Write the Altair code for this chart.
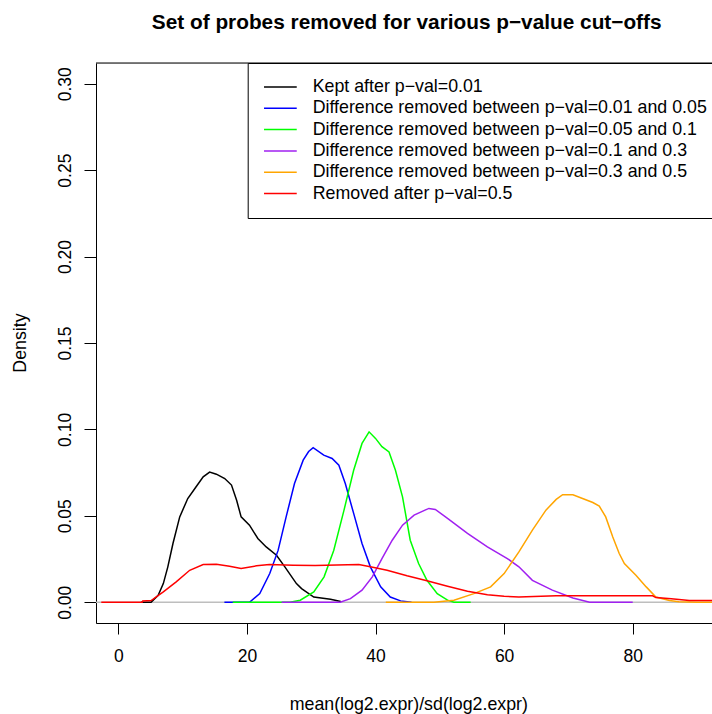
import altair as alt
import pandas as pd

# ---- data ----
names = [
    "Kept after p\u2212val=0.01",
    "Difference removed between p\u2212val=0.01 and 0.05",
    "Difference removed between p\u2212val=0.05 and 0.1",
    "Difference removed between p\u2212val=0.1 and 0.3",
    "Difference removed between p\u2212val=0.3 and 0.5",
    "Removed after p\u2212val=0.5",
]
colors = ["#000000", "#0000FF", "#00FF00", "#A020F0", "#FFA500", "#FF0000"]

black_x = [3.5, 5.1, 6.2, 7.0, 7.7, 8.5, 9.55, 10.8, 12.1, 13.2, 14.2, 15.25, 16.55, 17.6, 18.4, 19.1,
           20.4, 21.7, 23.0, 24.6, 25.9, 27.7, 28.5, 30.4, 33.0, 34.6]
black_y = [0, 0, 0.004, 0.0108, 0.0205, 0.034, 0.0494, 0.060, 0.0668, 0.0726, 0.0753, 0.0741, 0.0716,
           0.0678, 0.059, 0.0494, 0.0446, 0.0369, 0.032, 0.0272, 0.0205, 0.0108, 0.0079, 0.003, 0.0017, 0.0005]

blue_x = [16.5, 20.4, 22.0, 23.55, 24.85, 26.1, 27.4, 28.75, 29.6, 30.3, 31.95, 33.25, 34.3, 35.3, 36.6,
          37.9, 39.2, 40.8, 42.3, 43.9, 45.6]
blue_y = [0, 0, 0.005, 0.0166, 0.030, 0.0494, 0.0687, 0.0822, 0.0872, 0.0894, 0.0851, 0.0832, 0.0793,
          0.0687, 0.0514, 0.034, 0.0205, 0.0089, 0.003, 0.0008, 0]

green_x = [17.8, 26.7, 28.3, 30.4, 32.0, 33.5, 35.1, 36.6, 37.9, 39.0, 40.0, 41.0, 42.1, 43.1, 44.2,
           45.4, 46.7, 48.0, 49.6, 51.2, 52.2, 54.8]
green_y = [0, 0, 0.0012, 0.006, 0.0147, 0.030, 0.0533, 0.0764, 0.0919, 0.0986, 0.0948, 0.090, 0.087,
           0.0764, 0.061, 0.0359, 0.0224, 0.0127, 0.005, 0.0012, 0, 0]

purple_x = [25.4, 34.5, 36.1, 37.9, 39.5, 41.0, 42.6, 44.2, 46.0, 48.3, 49.3, 51.2, 54.3, 57.4, 60.5,
            62.3, 64.4, 67.5, 70.7, 73.3, 80.0]
purple_y = [0, 0, 0.0021, 0.007, 0.0147, 0.0253, 0.0359, 0.0446, 0.0504, 0.0543, 0.0537, 0.0485,
            0.0398, 0.032, 0.0253, 0.0205, 0.0127, 0.007, 0.0025, 0, 0]

orange_x = [41.6, 49.1, 52.2, 55.3, 57.9, 60.0, 62.3, 64.4, 66.5, 68.1, 69.1, 70.7, 72.2, 73.8, 74.8,
            75.8, 76.9, 77.9, 78.7, 80.5, 82.1, 83.6, 85.7, 87.2, 90.0, 95.0]
orange_y = [0, 0, 0.0012, 0.005, 0.0089, 0.0166, 0.0291, 0.0417, 0.0533, 0.0595, 0.0622, 0.0622, 0.060,
            0.0577, 0.0556, 0.0494, 0.0378, 0.0282, 0.0224, 0.0156, 0.0089, 0.003, 0.001, 0.0003, 0, 0]

red_x = [-2.65, 3.7, 3.8, 5.1, 7.0, 9.0, 11.1, 13.2, 15.25, 17.3, 19.1, 21.5, 23.5, 27.2, 30.6, 34.0,
         37.4, 39.2, 41.8, 44.9, 48.0, 51.2, 54.3, 57.4, 60.0, 62.3, 68.1, 83.1, 83.6, 86.0, 88.8, 95.0]
red_y = [0, 0, 0.0008, 0.001, 0.006, 0.0118, 0.0185, 0.0218, 0.022, 0.0208, 0.0195, 0.0211, 0.0218,
         0.0214, 0.0212, 0.0215, 0.0218, 0.0205, 0.0185, 0.0153, 0.0124, 0.0093, 0.0064, 0.0044, 0.0035,
         0.0031, 0.0037, 0.0037, 0.0027, 0.002, 0.001, 0.001]

x_ticks = [0, 20, 40, 60, 80]
y_ticks = [0.0, 0.05, 0.10, 0.15, 0.20, 0.25, 0.30]

series_xy = [(black_x, black_y), (blue_x, blue_y), (green_x, green_y),
             (purple_x, purple_y), (orange_x, orange_y), (red_x, red_y)]

rows = []
for name, (xs, ys) in zip(names, series_xy):
    for i, (xv, yv) in enumerate(zip(xs, ys)):
        rows.append({"series": name, "x": xv, "y": yv, "i": i})
df = pd.DataFrame(rows)

FONT = "Liberation Sans"
W, H = 616, 560

xscale = alt.Scale(domain=[-3.47, 92.33], nice=False, zero=False)
yscale = alt.Scale(domain=[-0.012, 0.312], nice=False, zero=False)

x_axis = alt.Axis(values=x_ticks, format="d", title="mean(log2.expr)/sd(log2.expr)",
                  grid=False, domainColor="black", domainWidth=1, tickColor="black", tickWidth=1,
                  tickSize=11, labelFontSize=17.5, labelFont=FONT, labelColor="black",
                  labelBaseline="alphabetic", labelPadding=27, labelFlush=False, labelOverlap=False,
                  titleFont=FONT, titleFontSize=17.8, titleFontWeight="normal", titleColor="black",
                  titleX=312.3, titleY=86, titleAlign="center", titleBaseline="alphabetic")
y_axis = alt.Axis(values=y_ticks, format=".2f", title="Density",
                  grid=False, domainColor="black", domainWidth=1, tickColor="black", tickWidth=1,
                  tickSize=12, labelFontSize=17.5, labelFont=FONT, labelColor="black",
                  labelAngle=270, labelAlign="center", labelBaseline="alphabetic", labelPadding=14,
                  labelFlush=False, labelOverlap=False,
                  titleFont=FONT, titleFontSize=17.8, titleFontWeight="normal", titleColor="black",
                  titleAngle=270, titleX=-70.5, titleY=279.5, titleAlign="center",
                  titleBaseline="alphabetic")

legend = alt.Legend(title=None, orient="none", legendX=151.7, legendY=0, direction="vertical",
                    padding=15, rowPadding=3.3, strokeColor="black", fillColor="white",
                    symbolType="M-0.96,0H3.13", symbolSize=256, symbolStrokeWidth=1.5,
                    labelOffset=32, labelFont=FONT, labelFontSize=17.8, labelColor="black",
                    labelLimit=1000)

color = alt.Color("series:N", scale=alt.Scale(domain=names, range=colors), legend=legend)

base = alt.Chart(df)

zero_line = base.mark_rule(color="#BEBEBE", strokeWidth=1.5).encode(
    y=alt.datum(0, scale=yscale)
).transform_filter(alt.datum.i == 0).transform_filter(alt.datum.series == names[0])

layers = [zero_line]
for k, name in enumerate(names):
    enc = dict(
        x=alt.X("x:Q", scale=xscale, axis=x_axis) if k == 0 else alt.X("x:Q", scale=xscale),
        y=alt.Y("y:Q", scale=yscale, axis=y_axis) if k == 0 else alt.Y("y:Q", scale=yscale),
        color=color,
        order=alt.Order("i:Q"),
    )
    layers.append(
        base.transform_filter(alt.datum.series == name)
        .mark_line(strokeWidth=1.5, clip=True)
        .encode(**enc)
    )

top_border = alt.Chart(alt.Data(values=[{"a": 1}])).mark_rule(color="black", strokeWidth=1).encode(
    x=alt.value(0), x2=alt.value(W), y=alt.value(0)
)
layers.append(top_border)

chart = alt.layer(*layers).properties(
    width=W, height=H,
    title=alt.TitleParams(
        "Set of probes removed for various p\u2212value cut\u2212offs",
        font=FONT, fontSize=20.8, fontWeight="bold", color="black",
        anchor="middle", frame="group", offset=12.5, baseline="alphabetic", dx=2.7,
    ),
    autosize=alt.AutoSizeParams(type="none"),
    padding={"left": 96, "top": 63, "right": 0, "bottom": 91},
).configure_view(stroke="transparent").configure(background="white")

chart.save("out.html", embed_options={"renderer": "svg", "actions": False})
